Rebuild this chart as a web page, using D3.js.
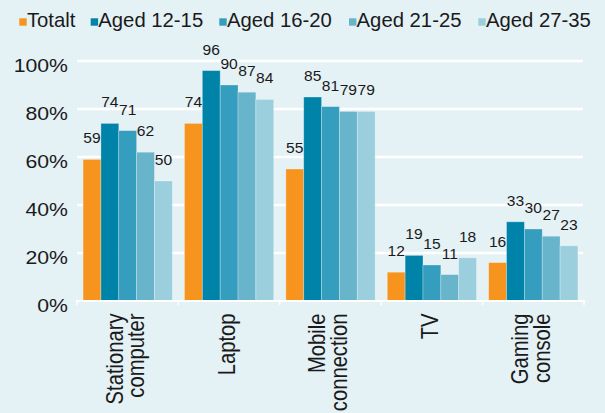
<!DOCTYPE html>
<html>
<head>
<meta charset="utf-8">
<script src="https://cdn.jsdelivr.net/npm/d3@7"></script>
<style>
  html, body { margin: 0; padding: 0; background: #e4f1f5; }
  svg { display: block; font-family: "Liberation Sans", Arial, sans-serif; }
</style>
</head>
<body>
<svg id="chart" width="605" height="413"></svg>
<script>
// Device access by age group, share in percent
const categories = [["Stationary", "computer"], ["Laptop"], ["Mobile", "connection"], ["TV"], ["Gaming", "console"]];
const seriesNames = ["Totalt", "Aged 12-15", "Aged 16-20", "Aged 21-25", "Aged 27-35"];
const totalt  = [59, 74, 55, 12, 16];
const aged1215 = [74, 96, 85, 19, 33];
const aged1620 = [71, 90, 81, 15, 30];
const aged2125 = [62, 87, 79, 11, 27];
const aged2735 = [50, 84, 79, 18, 23];
const yTicks = [0, 20, 40, 60, 80, 100];

const seriesValues = [totalt, aged1215, aged1620, aged2125, aged2735];
const colors = ["#f7941e", "#0083a9", "#359dbd", "#68b4cb", "#9bcfdd"];

const svg = d3.select("#chart");
const plotLeft = 77, plotRight = 584, plotTop = 61, plotBottom = 301;

const x0 = d3.scaleBand()
  .domain(d3.range(categories.length))
  .range([plotLeft, plotRight])
  .paddingInner(0.12)
  .paddingOuter(0.06);
const x1 = d3.scaleBand()
  .domain(d3.range(seriesNames.length))
  .range([0, x0.bandwidth()]);
const y = d3.scaleLinear().domain([0, 100]).range([plotBottom, plotTop]);

// Gridlines
svg.append("g")
  .selectAll("line")
  .data(yTicks.filter(d => d > 0))
  .join("line")
  .attr("x1", plotLeft).attr("x2", plotRight - 1)
  .attr("y1", d => y(d)).attr("y2", d => y(d))
  .attr("stroke", "#ffffff").attr("stroke-width", 2.5);

// Y axis labels
const yAxis = svg.append("g")
  .attr("transform", `translate(${plotLeft},0)`)
  .call(d3.axisLeft(y).tickValues(yTicks).tickFormat(d => d + "%").tickSize(0));
yAxis.select(".domain").remove();
yAxis.selectAll("text")
  .attr("x", 0).attr("dy", 0)
  .attr("transform", "translate(-9,10) scale(1.13,1)")
  .attr("fill", "#1a1a1a")
  .attr("font-size", 18.8)
  .attr("font-family", "Liberation Sans, Arial, sans-serif");

// Bars
const groups = svg.append("g")
  .selectAll("g")
  .data(categories.map((c, i) => i))
  .join("g")
  .attr("transform", i => `translate(${x0(i)},0)`);

groups.selectAll("rect")
  .data(i => seriesValues.map((vals, s) => ({ s, v: vals[i] })))
  .join("rect")
  .attr("x", d => x1(d.s))
  .attr("width", x1.bandwidth())
  .attr("y", d => y(d.v))
  .attr("height", d => y(0) - y(d.v))
  .attr("fill", d => colors[d.s])
  .attr("stroke", "rgba(255,255,255,0.35)")
  .attr("stroke-width", 0.8);

// Value labels
groups.selectAll("text.val")
  .data(i => seriesValues.map((vals, s) => ({ s, v: vals[i] })))
  .join("text")
  .attr("class", "val")
  .attr("transform", d => `translate(${x1(d.s) + x1.bandwidth() / 2},${y(d.v) - 16}) scale(1.07,1)`)
  .attr("text-anchor", "middle")
  .attr("font-size", 14.6)
  .attr("fill", "#1a1a1a")
  .text(d => d.v);

// X axis line with group ticks
const xAxis = svg.append("g");
xAxis.append("line")
  .attr("x1", plotLeft - 1).attr("x2", plotRight + 1)
  .attr("y1", plotBottom).attr("y2", plotBottom)
  .attr("stroke", "#ffffff").attr("stroke-width", 2);
const boundaries = d3.range(categories.length + 1).map(i => plotLeft + i * x0.step());
xAxis.selectAll("line.tick")
  .data(boundaries)
  .join("line")
  .attr("class", "tick")
  .attr("x1", d => d).attr("x2", d => d)
  .attr("y1", plotBottom).attr("y2", plotBottom + 4)
  .attr("stroke", "#ffffff").attr("stroke-width", 1.5);

// Category labels, rotated
const lineGap = 19;
svg.append("g")
  .selectAll("g")
  .data(categories.map((c, i) => ({ c, i })))
  .join("g")
  .attr("transform", d => `translate(${x0(d.i) + x0.bandwidth() / 2},313.5) rotate(-90) scale(1,1.15)`)
  .each(function (d) {
    const n = d.c.length;
    d3.select(this).selectAll("text")
      .data(d.c)
      .join("text")
      .attr("x", 0)
      .attr("y", (t, k) => 5 + (k - (n - 1) / 2) * lineGap)
      .attr("text-anchor", "end")
      .attr("font-size", 20.2)
      .attr("fill", "#1a1a1a")
      .text(t => t);
  });

// Legend
const legendX = [19.3, 90.7, 219.3, 349, 478.3];
const legend = svg.append("g")
  .selectAll("g")
  .data(seriesNames.map((n, i) => ({ n, i })))
  .join("g")
  .attr("transform", d => `translate(${legendX[d.i]},0)`);
legend.append("rect")
  .attr("x", 0).attr("y", 18.3)
  .attr("width", 7.4).attr("height", 7.4)
  .attr("fill", d => colors[d.i]);
legend.append("text")
  .attr("x", 7.6).attr("y", 26.7)
  .attr("font-size", 20.3)
  .attr("fill", "#1a1a1a")
  .text(d => d.n);
</script>
</body>
</html>
